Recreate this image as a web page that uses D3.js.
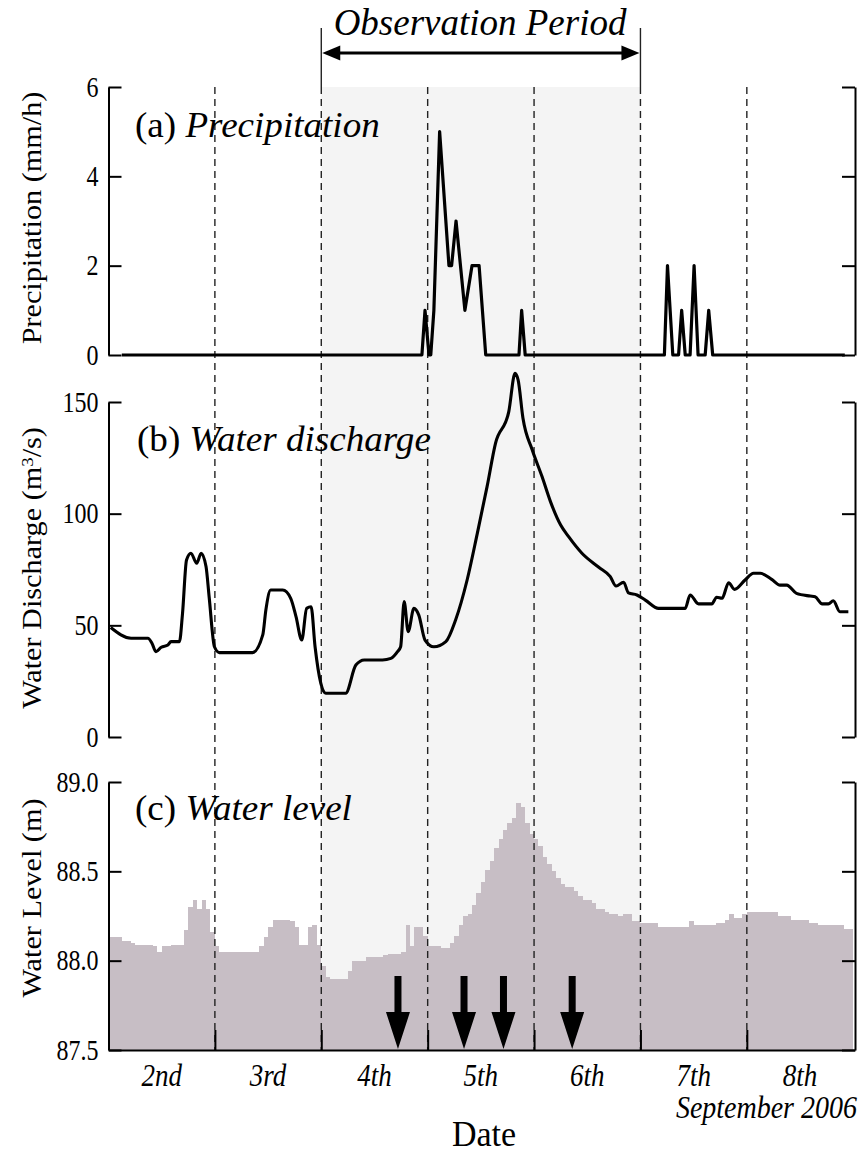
<!DOCTYPE html>
<html><head><meta charset="utf-8">
<script src="https://cdn.jsdelivr.net/npm/d3@7"></script>
<style>html,body{margin:0;padding:0;background:#fff;}svg{display:block;}</style>
</head><body>
<script>
// ---------- DATA ----------
const dayLabels = ["2nd","3rd","4th","5th","6th","7th","8th"];
const dayBoundaryHours = [24,48,72,96,120,144];
const obsStartHour = 48, obsEndHour = 120;

const precipTicks = [0,2,4,6];
const dischargeTicks = [0,50,100,150];
const levelTicks = [87.5,88.0,88.5,89.0];

// Precipitation (mm/h): hour since Sep 2 00:00 / value
const precipHours  = [3,70.7,71.4,72.3,72.7,73.4,74.7,76.8,77.4,78.4,80.4,82.0,83.6,85.1,92.6,93.2,94.0,125.4,126.1,127.3,128.6,129.3,130.1,131.2,132.1,133.0,134.6,135.4,136.3,166.1];
const precipValues = [0,0,1,0,0,1,5,2,2,3,1,2,2,0,0,1,0,0,2,0,0,1,0,0,2,0,0,1,0,0];

// Water discharge (m3/s)
const dischargeHours = [0.5,5.1,8.9,9.8,10.7,11.9,13.4,14.1,16.0,16.7,17.6,18.6,19.9,20.9,22.0,22.7,23.9,25.0,32.5,34.8,35.5,36.6,39.3,41.1,42.3,43.6,44.7,45.7,46.6,47.9,49.0,53.5,55.8,57.7,61.8,63.7,65.2,65.9,66.7,67.6,68.9,70.0,71.4,73.4,76.1,78.3,80.9,83.2,85.4,87.3,90.3,91.7,92.4,93.5,95.6,97.8,99.7,102.0,103.8,106.8,110.6,113.2,114.5,116.2,117.3,119.2,121.1,124.1,130.1,131.2,133.1,136.1,137.2,138.4,139.9,141.2,143.6,145.5,147.0,149.6,151.5,153.0,155.2,158.3,159.4,161.0,162.4,163.5,165.0,166.9];
const dischargeValues = [49,44.2,44.2,42,38.2,40.2,41.2,42.7,42.7,55.4,79.3,82.3,77.8,82.3,76.3,62.8,40.4,37.8,37.8,45.7,56.9,65.8,65.8,62.1,53.9,43.4,57.6,58.3,40.4,24,19.6,19.6,32.2,34.5,34.5,35.2,38.2,40.4,60.6,47.2,57.6,54.6,43.4,40.4,42.7,52.4,70.3,91.2,112.1,131.5,145.7,162.8,159.9,142.7,128.5,116.6,105.4,94.9,89.7,82.3,76,71.8,67.6,69.3,64.5,63.6,61.3,57.6,57.6,63.6,59.6,59.6,62.6,62.1,69.1,66.1,70.3,73.3,73.3,70.6,68,68,64.3,63.1,62.8,59.6,59.6,61,56.1,56.1];

// Water level (m), hourly from Sep 2 00:00
const levelValues = [
 88.13,88.13,88.13,88.11,88.11,88.10,88.09,88.09,88.09,88.09,88.08,88.05,88.08,88.08,88.09,88.09,88.09,88.17,88.30,88.34,88.29,88.34,88.29,88.16,
 88.08,88.05,88.05,88.05,88.05,88.05,88.05,88.05,88.05,88.05,88.08,88.13,88.19,88.23,88.23,88.23,88.23,88.22,88.19,88.09,88.09,88.19,88.20,88.09,
 87.97,87.91,87.90,87.90,87.90,87.90,87.94,88.00,88.00,88.00,88.02,88.02,88.02,88.02,88.03,88.04,88.04,88.04,88.05,88.20,88.08,88.19,88.19,88.14,
 88.08,88.08,88.08,88.07,88.07,88.10,88.14,88.20,88.25,88.26,88.31,88.38,88.44,88.51,88.56,88.63,88.68,88.73,88.77,88.80,88.88,88.86,88.77,88.71,
 88.68,88.64,88.58,88.54,88.50,88.46,88.43,88.41,88.41,88.39,88.36,88.34,88.34,88.32,88.29,88.29,88.27,88.26,88.26,88.25,88.26,88.26,88.22,88.22,
 88.21,88.21,88.21,88.21,88.19,88.19,88.19,88.19,88.19,88.19,88.19,88.22,88.20,88.20,88.20,88.20,88.20,88.21,88.21,88.23,88.26,88.24,88.24,88.26,
 88.27,88.27,88.27,88.27,88.27,88.27,88.27,88.25,88.25,88.25,88.23,88.23,88.23,88.23,88.21,88.21,88.20,88.20,88.20,88.20,88.20,88.20,88.18,88.18
];

// Sampling times (arrows)
const arrowHours = [65.3,80.2,89.1,104.6];

// ---------- LAYOUT ----------
const W = 866, H = 1156;
const FONT = '"Liberation Serif","Times New Roman",Times,serif';
const svg = d3.select("body").append("svg").attr("width",W).attr("height",H)
  .style("font-family",FONT);
svg.append("rect").attr("width",W).attr("height",H).attr("fill","#fff");

const x = d3.scaleLinear().domain([0,168.4]).range([108.5,855]);
const yP = d3.scaleLinear().domain([0,6]).range([355,87]);
const yQ = d3.scaleLinear().domain([0,150]).range([737,402]);
const yL = d3.scaleLinear().domain([87.5,89.0]).range([1050,782]);
const xLeft = x.range()[0], xRight = x.range()[1];
const topY = 87, botY = 1050;

// observation period shading
svg.append("rect")
  .attr("x",x(obsStartHour)).attr("y",topY)
  .attr("width",x(obsEndHour)-x(obsStartHour)).attr("height",botY-topY)
  .attr("fill","#f4f4f4");

// water level area (stepped)
const levelPts = levelValues.map((v,i)=>[i,v]);
levelPts.push([levelValues.length, levelValues[levelValues.length-1]]);
svg.append("path").datum(levelPts)
  .attr("d", d3.area().x(d=>x(d[0])).y0(yL(87.5)).y1(d=>yL(d[1])).curve(d3.curveStepAfter))
  .attr("fill","#c7bec5").attr("shape-rendering","crispEdges");

// dashed day lines
svg.append("g").selectAll("line").data(dayBoundaryHours).join("line")
  .attr("x1",d=>x(d)).attr("x2",d=>x(d)).attr("y1",topY).attr("y2",botY)
  .attr("stroke","#222").attr("stroke-width",1.4).attr("stroke-dasharray","7,5");

// observation period bracket
[obsStartHour,obsEndHour].forEach(h=>{
  svg.append("line").attr("x1",x(h)).attr("x2",x(h)).attr("y1",28).attr("y2",topY)
    .attr("stroke","#222").attr("stroke-width",1.4);
});
const ay = 53, x0 = x(obsStartHour), x1 = x(obsEndHour);
svg.append("line").attr("x1",x0+10).attr("x2",x1-10).attr("y1",ay).attr("y2",ay)
  .attr("stroke","#000").attr("stroke-width",2.8);
svg.append("path").attr("d",`M${x0+1},${ay}L${x0+19},${ay-7.5}L${x0+19},${ay+7.5}Z`).attr("fill","#000");
svg.append("path").attr("d",`M${x1-1},${ay}L${x1-19},${ay-7.5}L${x1-19},${ay+7.5}Z`).attr("fill","#000");

// precipitation line
svg.append("path").datum(precipHours.map((h,i)=>[h,precipValues[i]]))
  .attr("d", d3.line().x(d=>x(d[0])).y(d=>yP(d[1])))
  .attr("fill","none").attr("stroke","#000").attr("stroke-width",3.2).attr("stroke-linejoin","round");

// discharge line
svg.append("path").datum(dischargeHours.map((h,i)=>[h,dischargeValues[i]]))
  .attr("d", d3.line().x(d=>x(d[0])).y(d=>yQ(d[1])).curve(d3.curveMonotoneX))
  .attr("fill","none").attr("stroke","#000").attr("stroke-width",3.1).attr("stroke-linejoin","round");

// axes
function styleAxis(g){
  g.selectAll(".domain").attr("stroke","#000").attr("stroke-width",2);
  g.selectAll(".tick line").attr("stroke","#000").attr("stroke-width",2);
  g.selectAll(".tick text").attr("fill","#000").style("font-family",FONT).style("font-size","24px")
    .attr("transform","scale(1,1.2)");
}
function leftRight(scale, ticks, fmt){
  svg.append("g").attr("transform",`translate(${xLeft},0)`)
    .call(d3.axisLeft(scale).tickValues(ticks).tickSize(-13).tickSizeOuter(0).tickPadding(10).tickFormat(fmt))
    .call(styleAxis);
  svg.append("g").attr("transform",`translate(${xRight},0)`)
    .call(d3.axisRight(scale).tickValues(ticks).tickSize(-13).tickSizeOuter(0).tickFormat(""))
    .call(styleAxis);
}
leftRight(yP, precipTicks, d3.format("d"));
leftRight(yQ, dischargeTicks, d3.format("d"));
leftRight(yL, levelTicks, d3.format(".1f"));
svg.append("g").attr("transform",`translate(0,${botY})`)
  .call(d3.axisBottom(x).tickValues(dayBoundaryHours).tickSize(-20).tickSizeOuter(0).tickFormat(""))
  .call(styleAxis);

// sampling arrows
svg.append("g").selectAll("path").data(arrowHours).join("path")
  .attr("transform",d=>`translate(${x(d)},${yL(87.5)-1})`)
  .attr("d","M-3.5,-73L3.5,-73L3.5,-37L12,-37L0,0L-12,-37L-3.5,-37Z")
  .attr("fill","#000");

// ---------- TEXT ----------
function txt(xp, yp, sx, sy, size, anchor, parts, rot){
  const t = svg.append("text")
    .attr("transform",`translate(${xp},${yp}) scale(${sx},${sy})${rot?" rotate(-90)":""}`)
    .attr("text-anchor",anchor).style("font-size",size+"px").attr("fill","#000");
  parts.forEach(p=>{
    const s = t.append("tspan").text(p.t);
    if(p.i) s.style("font-style","italic");
    if(p.sup){ s.attr("dy","-0.45em").style("font-size","0.62em"); }
    if(p.after){ s.attr("dy","0.28em"); }
  });
  return t;
}
txt(480,35,1,1.05,37,"middle",[{t:"Observation Period",i:true}]);
txt(135,137,1.06,1.0,35,"start",[{t:"(a) "},{t:"Precipitation",i:true}]);
txt(137,451,1.06,1.0,35,"start",[{t:"(b) "},{t:"Water discharge",i:true}]);
txt(135,820,1.06,1.0,35,"start",[{t:"(c) "},{t:"Water level",i:true}]);

txt(41,218,1,1.12,27,"middle",[{t:"Precipitation (mm/h)"}],true);
txt(41,568,1,1.12,27,"middle",[{t:"Water Discharge (m"},{t:"3",sup:true},{t:"/s)",after:true}],true);
txt(41,898,1,1.12,27,"middle",[{t:"Water Level (m)"}],true);

dayLabels.forEach((d,i)=>{
  txt(x(12+24*i),1086,1,1.15,27,"middle",[{t:d,i:true}]);
});
txt(857,1118,1,1.1,28,"end",[{t:"September 2006",i:true}]);
txt(484,1146,1,1.05,34,"middle",[{t:"Date"}]);
</script>
</body></html>
